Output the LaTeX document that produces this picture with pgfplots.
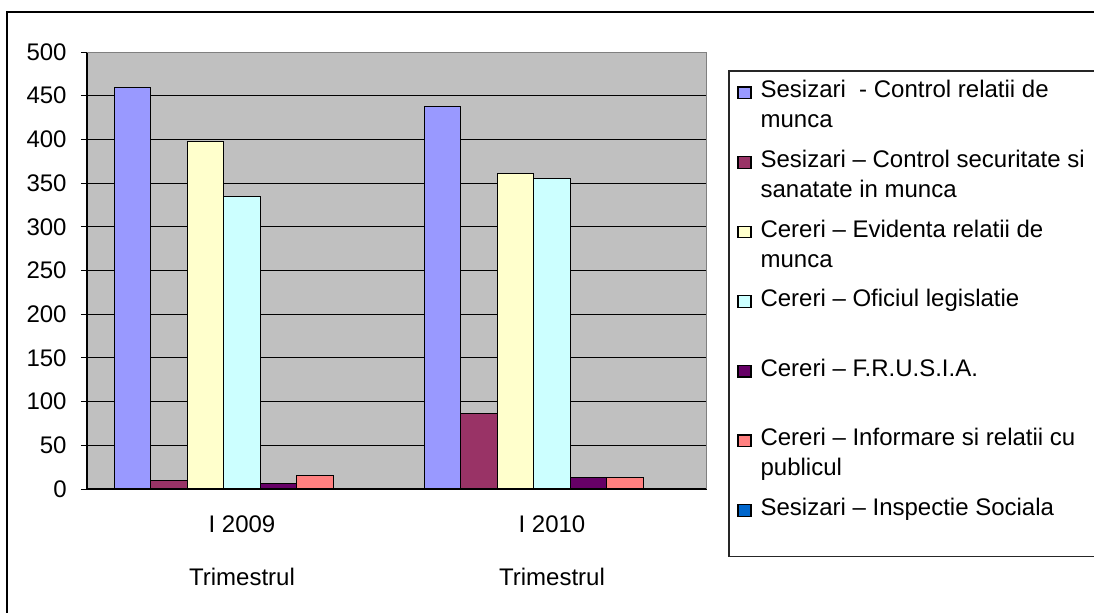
\documentclass[border=0pt]{standalone}
\usepackage{pgfplots}
\pgfplotsset{compat=1.18}
\usepackage{fontspec}
\setmainfont{Liberation Sans}
\definecolor{cA}{HTML}{9999FF}
\definecolor{cB}{HTML}{993366}
\definecolor{cC}{HTML}{FFFFCC}
\definecolor{cD}{HTML}{CCFFFF}
\definecolor{cE}{HTML}{660066}
\definecolor{cF}{HTML}{FF8080}
\definecolor{cG}{HTML}{0066CC}
\definecolor{bgG}{HTML}{C0C0C0}
\newcommand\ff{\fontsize{12}{15}\selectfont}
\newcommand\two[2]{\vtop{\hbox{#1}\hbox{#2}}}
\begin{document}
\begin{tikzpicture}
\path[use as bounding box] (0,0) rectangle (547pt,306pt);
\clip (0,0) rectangle (547pt,306pt);
\begin{axis}[
  at={(43.5pt,61.5pt)}, anchor=south west,
  scale only axis, width=310pt, height=218.5pt,
  xmin=-0.5, xmax=1.5, ymin=0, ymax=500,
  ybar=0pt, bar width=0.1177,
  axis x line*=bottom, axis y line*=left,
  axis line style={-, black, line width=0.6pt},
  axis background/.style={fill=bgG},
  ytick={0,50,...,500},
  ymajorgrids, grid style={black, line width=0.5pt},
  tick align=outside, major tick length=3pt,
  tick style={black, line width=0.5pt},
  xtick={0,1},
  xticklabels={{I 2009\\[11.5pt]Trimestrul},{I 2010\\[11.5pt]Trimestrul}},
  xtick style={draw=none},
  xticklabel style={align=center, anchor=north, inner sep=0pt, yshift=-10pt},
  extra x ticks={-0.5,0.5,1.5},
  extra x tick labels={},
  extra x tick style={grid=none, major tick length=51.5pt, tick style={draw=black!75, line width=0.6pt}},
  yticklabel style={anchor=east, inner sep=0pt, xshift=-7pt},
  ticklabel style={font=\ff},
  /pgf/number format/assume math mode=true,
  legend style={draw=none, fill=none, inner sep=0pt, outer sep=0pt,
    at={(axis description cs:1.049,0.952)}, anchor=north west,
    row sep=19.3pt, column sep=2.5pt,
    nodes={text height=10.5pt, text depth=1pt},
    cells={anchor=base west, inner sep=0pt}, font=\ff},
  legend image code/.code={\draw[#1, line width=0.6pt] (0pt,-0.3pt) rectangle (6.5pt,5.5pt);},
]
\addplot[fill=cA, draw=black, line width=0.6pt] coordinates {(0,459) (1,438)};
\addplot[fill=cB, draw=black, line width=0.6pt] coordinates {(0,10) (1,86)};
\addplot[fill=cC, draw=black, line width=0.6pt] coordinates {(0,398) (1,361)};
\addplot[fill=cD, draw=black, line width=0.6pt] coordinates {(0,335) (1,355)};
\addplot[fill=cE, draw=black, line width=0.6pt] coordinates {(0,6) (1,13)};
\addplot[fill=cF, draw=black, line width=0.6pt] coordinates {(0,15) (1,13)};
\addplot[fill=cG, draw=black, line width=0.6pt] coordinates {(0,0) (1,0)};
\legend{
  \two{Sesizari\ \ - Control relatii de}{munca},
  \two{Sesizari -- Control securitate si}{sanatate in munca},
  \two{Cereri -- Evidenta relatii de}{munca},
  Cereri -- Oficiul legislatie,
  Cereri -- F.R.U.S.I.A.,
  \two{Cereri -- Informare si relatii cu}{publicul},
  Sesizari -- Inspectie Sociala
}
\draw[gray, line width=0.6pt] (rel axis cs:0,1) -- (rel axis cs:1,1) -- (rel axis cs:1,0);
\end{axis}
\draw[black!85, line width=0.8pt] (364.5pt,270.5pt) rectangle (560pt,27.75pt);
\draw[black, line width=1pt] (3.5pt,-5pt) -- (3.5pt,300pt) -- (560pt,300pt);
\end{tikzpicture}
\end{document}
